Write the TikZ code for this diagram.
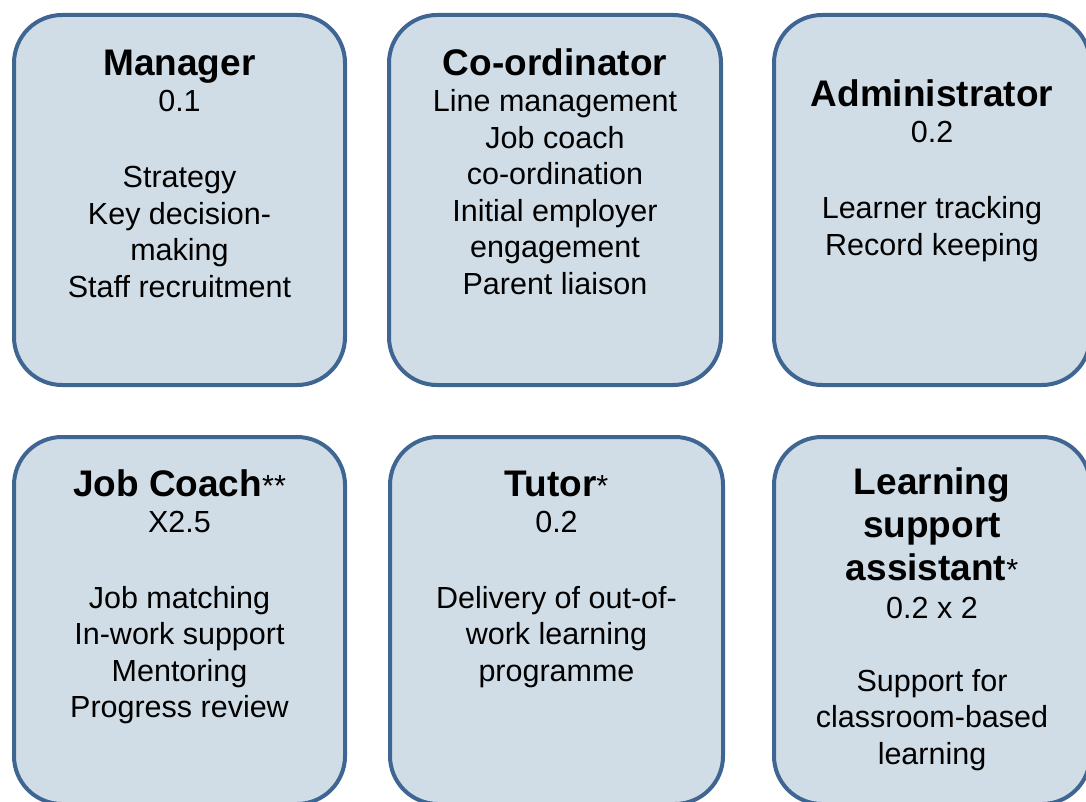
\documentclass[tikz,border=0pt]{standalone}
\usepackage{fontspec}
\setmainfont{Liberation Sans}
\usepackage{tikz}
\definecolor{RoleFill}{RGB}{208,221,230}
\definecolor{RoleBorder}{RGB}{63,101,147}
\newcommand{\ttl}[1]{{\rule{0pt}{30pt}\fontsize{37}{44}\selectfont\bfseries #1}}

\begin{document}
\begin{tikzpicture}[x=1pt,y=-1pt,
role/.style n args={2}{rectangle,draw=RoleBorder,fill=RoleFill,line width=4pt,rounded corners=48pt,minimum width=#1pt,minimum height=#2pt,inner sep=0pt},
txt/.style={align=center,anchor=north,inner sep=0pt,font=\fontsize{30.5}{36.5}\selectfont}]
\useasboundingbox (0,0) rectangle (1086,802);
\clip (0,0) rectangle (1086,802);
% top row
\node[role={331}{370}](mgr) at (179.5,200) {};
\node[role={332}{370}](coord) at (555,200) {};
\node[role={316}{370}](admin) at (932,200) {};
% bottom row
\node[role={331}{367}](jc) at (179.5,620.5) {};
\node[role={333}{367}](tutor) at (556.5,620.5) {};
\node[role={316}{367}](lsa) at (932,620.5) {};
% texts
\node[txt](mgrT) at ([yshift=-32pt]mgr.north) {\ttl{Manager}\\0.1\\[39.5pt]Strategy\\Key decision-\\making\\Staff recruitment};
\node[txt](coordT) at ([yshift=-32pt]coord.north) {\ttl{Co-ordinator}\\Line management\\Job coach\\co-ordination\\Initial employer\\engagement\\Parent liaison};
\node[txt](adminT) at ([yshift=-63pt]admin.north) {\ttl{Administrator}\\0.2\\[39.5pt]Learner tracking\\Record keeping};
\node[txt](jcT) at ([yshift=-31pt]jc.north) {\ttl{Job Coach}**\\X2.5\\[39pt]Job matching\\In-work support\\Mentoring\\Progress review};
\node[txt](tutorT) at ([yshift=-31pt]tutor.north) {\ttl{Tutor}*\\0.2\\[39pt]Delivery of out-of-\\work learning\\programme};
\node[txt](lsaT) at ([yshift=-29pt]lsa.north) {\ttl{Learning}\\[4.5pt]\ttl{support}\\[4.5pt]\ttl{assistant}*\\[1.5pt]0.2 x 2\\[36pt]Support for\\classroom-based\\learning};
\end{tikzpicture}
\end{document}
